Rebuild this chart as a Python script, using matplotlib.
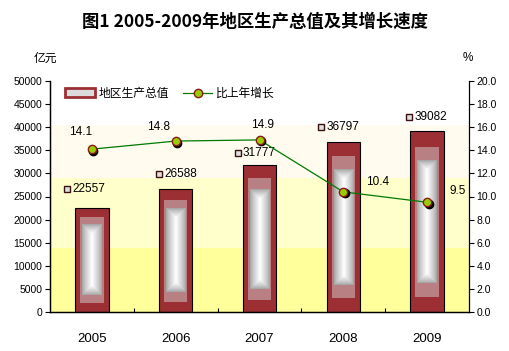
import numpy as np
import matplotlib
matplotlib.use("Agg")
import matplotlib.pyplot as plt
from matplotlib.patches import Patch
from matplotlib.lines import Line2D
from matplotlib.transforms import offset_copy

plt.rcParams["font.family"] = ["Liberation Sans", "Noto Sans CJK SC", "DejaVu Sans"]

years = ["2005", "2006", "2007", "2008", "2009"]
gdp = [22557, 26588, 31777, 36797, 39082]
growth = [14.1, 14.8, 14.9, 10.4, 9.5]

gdp_ticks = list(range(0, 50001, 5000))
growth_ticks = [0, 2, 4, 6, 8, 10, 12, 14, 16, 18, 20]

# hand placed label offsets (pixels), as in the original
growth_label_offsets = [(-11, 17), (-17, 14), (3, 15), (34, 10), (31, 11)]
gdp_label_offsets = [(-3, 19), (5, 15), (0, 12), (0, 15), (4, 14)]

RED = "#9c2f33"
PINK = "#b88082"
GREEN = "#007a00"
MARKER_FACE = "#99cc00"
MARKER_EDGE = "#8b1a1a"
BAR_W = 0.4

fig = plt.figure(figsize=(5.10, 3.51), dpi=100)
ax = fig.add_axes([50 / 510, 39 / 351, 419 / 510, 231 / 351])
ax2 = ax.twinx()

ax.set_xlim(-0.5, len(years) - 0.5)
ax.set_ylim(0, 50000)
ax2.set_ylim(0, 20)

# plot area background bands
ax.axhspan(0, 13900, color="#ffff9c", zorder=0, lw=0)
ax.axhspan(13900, 28950, color="#ffffcc", zorder=0, lw=0)
ax.axhspan(28950, 40400, color="#fffbee", zorder=0, lw=0)

# pixel -> data conversions
px_x = len(years) / 419.0
px_y = 50000 / 231.0

x = np.arange(len(years))
ax.bar(x, gdp, width=BAR_W, color=RED, edgecolor="black", linewidth=0.8, zorder=2)

for xi, v in zip(x, gdp):
    # translucent pink inner layer
    fy1 = 0.085
    ax.bar(xi, v * (1 - 2 * fy1), bottom=v * fy1, width=BAR_W - 10 * px_x,
           color=PINK, linewidth=0, zorder=3)
    # rectangular grey/white gradient
    x0, x1 = xi - BAR_W / 2 + 7 * px_x, xi + BAR_W / 2 - 7 * px_x
    y0, y1 = v * 0.16, v * 0.84
    w_px = int(round((x1 - x0) / px_x))
    h_px = int(round((y1 - y0) / px_y))
    jj, ii = np.meshgrid(np.arange(w_px), np.arange(h_px))
    d = np.minimum.reduce([jj + 0.5, w_px - jj - 0.5, ii + 0.5, h_px - ii - 0.5])
    t = np.clip(d / (w_px / 2.0), 0, 1) ** 0.8
    edge = np.array([160, 160, 160]) / 255.0
    img = edge[None, None, :] + (1 - edge[None, None, :]) * t[:, :, None]
    ax.imshow(img, extent=(x0, x1, y0, y1), aspect="auto", interpolation="nearest",
              zorder=4, origin="lower")

# bar value labels with small legend key squares
for xi, v, (dx, dy) in zip(x, gdp, gdp_label_offsets):
    ax.annotate(f"{v}", (xi, v), xytext=(dx, dy), textcoords="offset pixels",
                ha="center", va="center", fontsize=8.5, zorder=6)
    tr = offset_copy(ax.transData, fig=fig, x=dx - 22, y=dy, units="dots")
    ax.plot(xi, v, marker="s", markersize=4.5, markerfacecolor="#e0e0e0",
            markeredgecolor="#3a1010", markeredgewidth=1.0, transform=tr, zorder=6)

# growth line on the right axis
shadow = offset_copy(ax2.transData, fig=fig, x=1.5, y=-1.5, units="dots")
ax2.plot(x, growth, color=GREEN, linewidth=0.9, zorder=5)
ax2.plot(x, growth, linestyle="none", marker="o", markersize=6.0, color="black",
         transform=shadow, zorder=5)
ax2.plot(x, growth, linestyle="none", marker="o", markersize=6.0,
         markerfacecolor=MARKER_FACE, markeredgecolor=MARKER_EDGE,
         markeredgewidth=1.0, zorder=6)
for xi, g, (dx, dy) in zip(x, growth, growth_label_offsets):
    ax2.annotate(f"{g:.1f}", (xi, g), xytext=(dx, dy), textcoords="offset pixels",
                 ha="center", va="center", fontsize=8.5)

# axes styling
ax.set_xticks(x)
ax.set_xticklabels(years, fontsize=9.5)
ax.set_xticks(x[:-1] + 0.5, minor=True)
ax.tick_params(axis="x", which="major", length=0, pad=15)
ax.tick_params(axis="x", which="minor", direction="in", length=3, width=0.8)
ax.set_yticks(gdp_ticks)
ax.tick_params(axis="y", direction="out", length=3.5, width=0.8, labelsize=7.5, pad=2)
ax2.set_yticks(growth_ticks)
ax2.set_yticklabels([f"{t:.1f}" for t in growth_ticks])
ax2.tick_params(axis="y", direction="out", length=3.5, width=0.8, labelsize=7.5, pad=2)

for a in (ax, ax2):
    a.spines["top"].set_visible(False)
    a.set_facecolor("none")
    for s in ("left", "right", "bottom"):
        a.spines[s].set_linewidth(0.9)
ax.spines["right"].set_visible(False)

# legend
handles = [
    Patch(facecolor="#dcdcdc", edgecolor=RED, linewidth=2.0, label="地区生产总值"),
    Line2D([0], [0], color=GREEN, linewidth=0.9, marker="o", markersize=6,
           markerfacecolor=MARKER_FACE, markeredgecolor=MARKER_EDGE,
           label="比上年增长"),
]
leg = ax2.legend(handles=handles, loc="center left", bbox_to_anchor=(0.025, 0.945),
                 ncol=2, frameon=False, fontsize=8.5, handlelength=2.5,
                 handleheight=0.7, handletextpad=0.3, columnspacing=1.2,
                 borderaxespad=0)

fig.text(255 / 510, 1 - 22 / 351, "图1 2005-2009年地区生产总值及其增长速度",
         ha="center", va="center", fontsize=12.5, fontweight="bold",
         family=["Noto Sans CJK SC", "DejaVu Sans"])
fig.text(45 / 510, 1 - 58 / 351, "亿元", ha="center", va="center", fontsize=8.5,
         family=["Noto Sans CJK SC", "DejaVu Sans"])
fig.text(468 / 510, 1 - 58 / 351, "%", ha="center", va="center", fontsize=8.5)

fig.savefig("out.png", dpi=100)
